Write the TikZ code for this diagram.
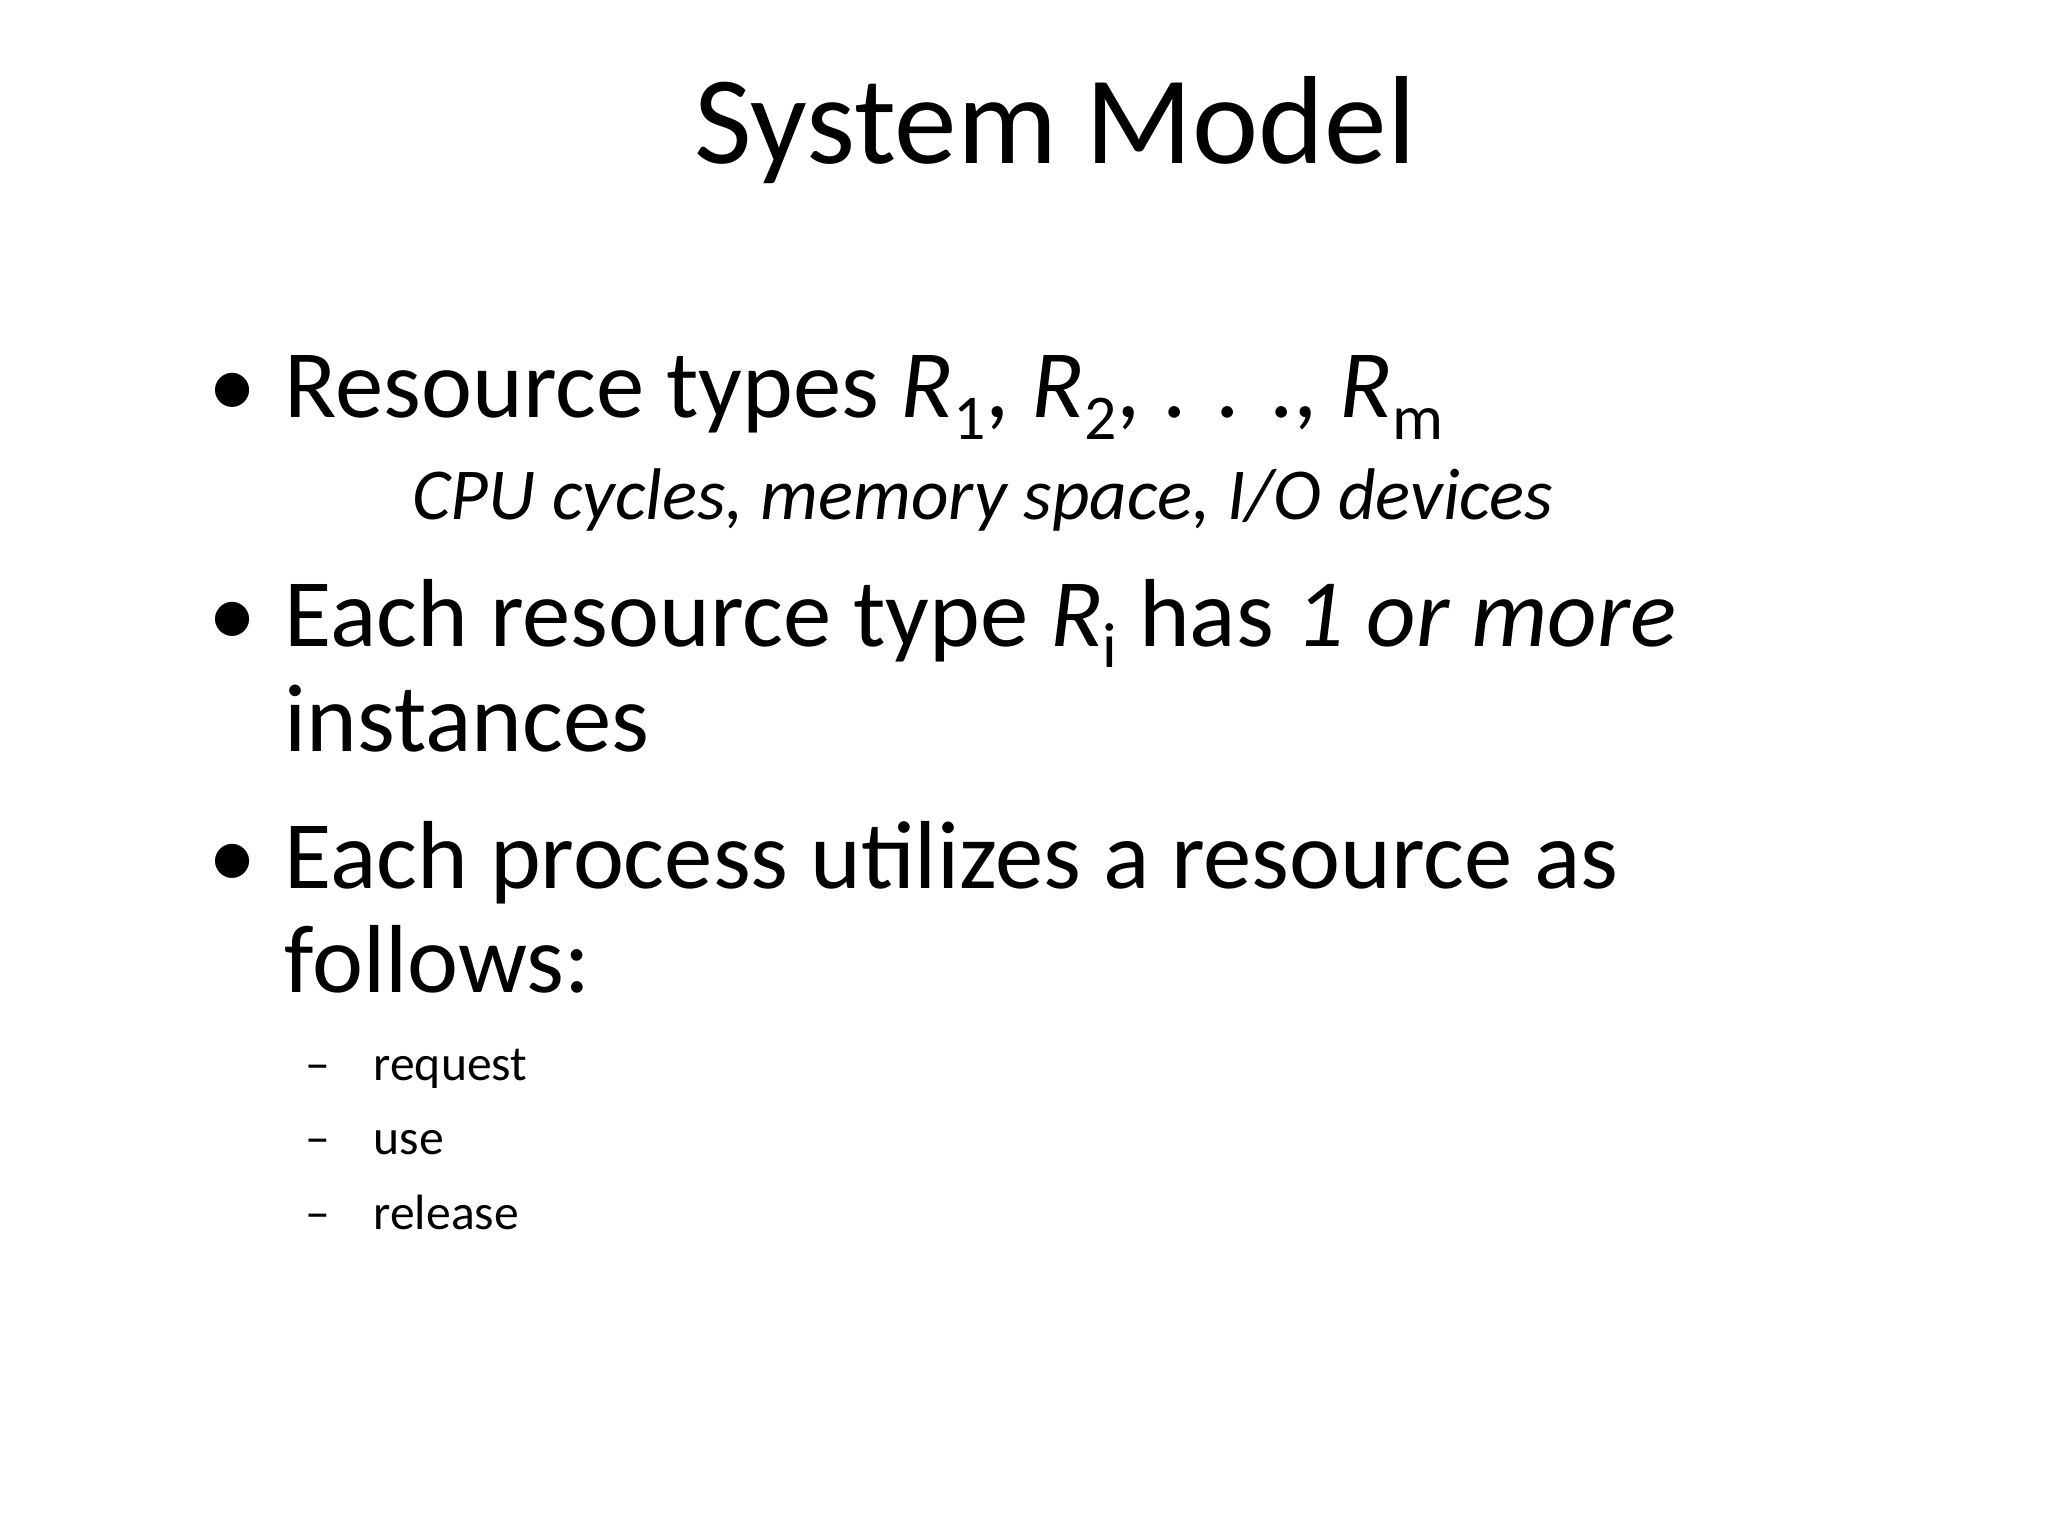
\documentclass[tikz,border=0pt]{standalone}
\usepackage{fontspec}
\setmainfont{Carlito}
\newcommand{\sbx}[1]{\raisebox{-0.22em}{\scalebox{0.66}{#1}}}
\begin{document}
\begin{tikzpicture}[x=1pt,y=-1pt,
  tx/.style={anchor=base west,inner sep=0pt,outer sep=0pt}]
\useasboundingbox (0,0) rectangle (1568,1176);
\node[anchor=base,inner sep=0] (title) at (808,125) {\fontsize{96}{100}\selectfont System Model};
\node[tx] (b1) at (160,320) {\fontsize{74}{80}\selectfont •};
\node[tx] (t1) at (218,320) {\fontsize{74}{80}\selectfont Resource types \textit{R}\sbx{1}, \textit{R}\sbx{2}, . . ., \textit{R}\sbx{m}};
\node[tx] (t1b) at (316,398) {\fontsize{56}{60}\selectfont\itshape CPU cycles, memory space, I/O devices};
\node[tx] (b2) at (160,495) {\fontsize{74}{80}\selectfont •};
\node[tx] (t2) at (218,495) {\fontsize{74}{80}\selectfont Each resource type \textit{R}\sbx{i} has \textit{1 or more}};
\node[tx] (t2b) at (218,575) {\fontsize{74}{80}\selectfont instances};
\node[tx] (b3) at (160,680) {\fontsize{74}{80}\selectfont •};
\node[tx] (t3) at (218,680) {\fontsize{74}{80}\selectfont Each process utilizes a resource as};
\node[tx] (t3b) at (218,760) {\fontsize{74}{80}\selectfont follows:};
\foreach \y/\w [count=\i] in {827/request,884/use,941/release}{
  \node[tx] (d\i) at (234,\y) {\fontsize{38}{40}\selectfont –};
  \node[tx] (s\i) at (286,\y) {\fontsize{38}{40}\selectfont \w};
}
\end{tikzpicture}
\end{document}
